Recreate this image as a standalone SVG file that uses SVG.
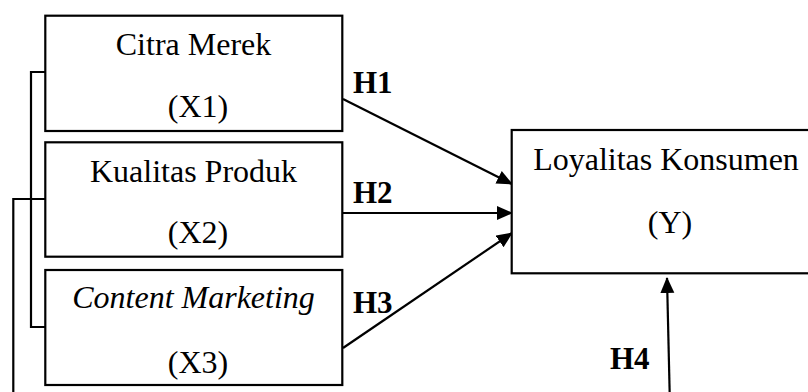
<svg xmlns="http://www.w3.org/2000/svg" width="808" height="392" viewBox="0 0 808 392">
<defs>
<marker id="ah" markerUnits="userSpaceOnUse" markerWidth="16" markerHeight="16" viewBox="0 0 16 16" refX="15" refY="8" orient="auto">
<path d="M0,1 L16,8 L0,15 Z" fill="#000"/>
</marker>
<style>
.box{fill:#fff;stroke:#000;stroke-width:2.2}
.t{font-family:"Liberation Serif","Times New Roman",serif;font-size:32px;fill:#000;text-anchor:middle}
.i{font-style:italic}
.h{font-family:"Liberation Serif","Times New Roman",serif;font-size:31px;font-weight:bold;fill:#000}
.ln{fill:none;stroke:#000;stroke-width:2.2}
.ar{fill:none;stroke:#000;stroke-width:2.2;marker-end:url(#ah)}
</style>
</defs>
<rect width="808" height="392" fill="#fff"/>
<g id="connectors">
<polyline class="ln" points="45,72 31,72 31,327 45,327"/>
<polyline class="ln" points="45,199 13.3,199 13.3,394"/>
<line class="ar" x1="343" y1="99" x2="512" y2="184"/>
<line class="ar" x1="343" y1="213" x2="512" y2="213"/>
<line class="ar" x1="343" y1="348" x2="512" y2="233"/>
<line class="ar" x1="669.7" y1="394" x2="667" y2="278"/>
<text class="h" x="353" y="92.5">H1</text>
<text class="h" x="353" y="202.7">H2</text>
<text class="h" x="353" y="313.3">H3</text>
<text class="h" x="610" y="368.5">H4</text>
</g>
<g id="x1">
<rect class="box" x="45.3" y="15.7" width="297" height="115.3"/>
<text class="t" x="193.5" y="55">Citra Merek</text>
<text class="t" x="198" y="117">(X1)</text>
</g>
<g id="x2">
<rect class="box" x="45.3" y="142.3" width="297" height="114.4"/>
<text class="t" x="193.5" y="181.7">Kualitas Produk</text>
<text class="t" x="198" y="242.7">(X2)</text>
</g>
<g id="x3">
<rect class="box" x="45.3" y="270" width="297" height="115"/>
<text class="t i" x="193.5" y="308.3">Content Marketing</text>
<text class="t" x="198" y="372.7">(X3)</text>
</g>
<g id="y">
<rect class="box" x="511.7" y="130" width="320" height="143.3"/>
<text class="t" x="666" y="170">Loyalitas Konsumen</text>
<text class="t" x="670" y="233.3">(Y)</text>
</g>
</svg>
